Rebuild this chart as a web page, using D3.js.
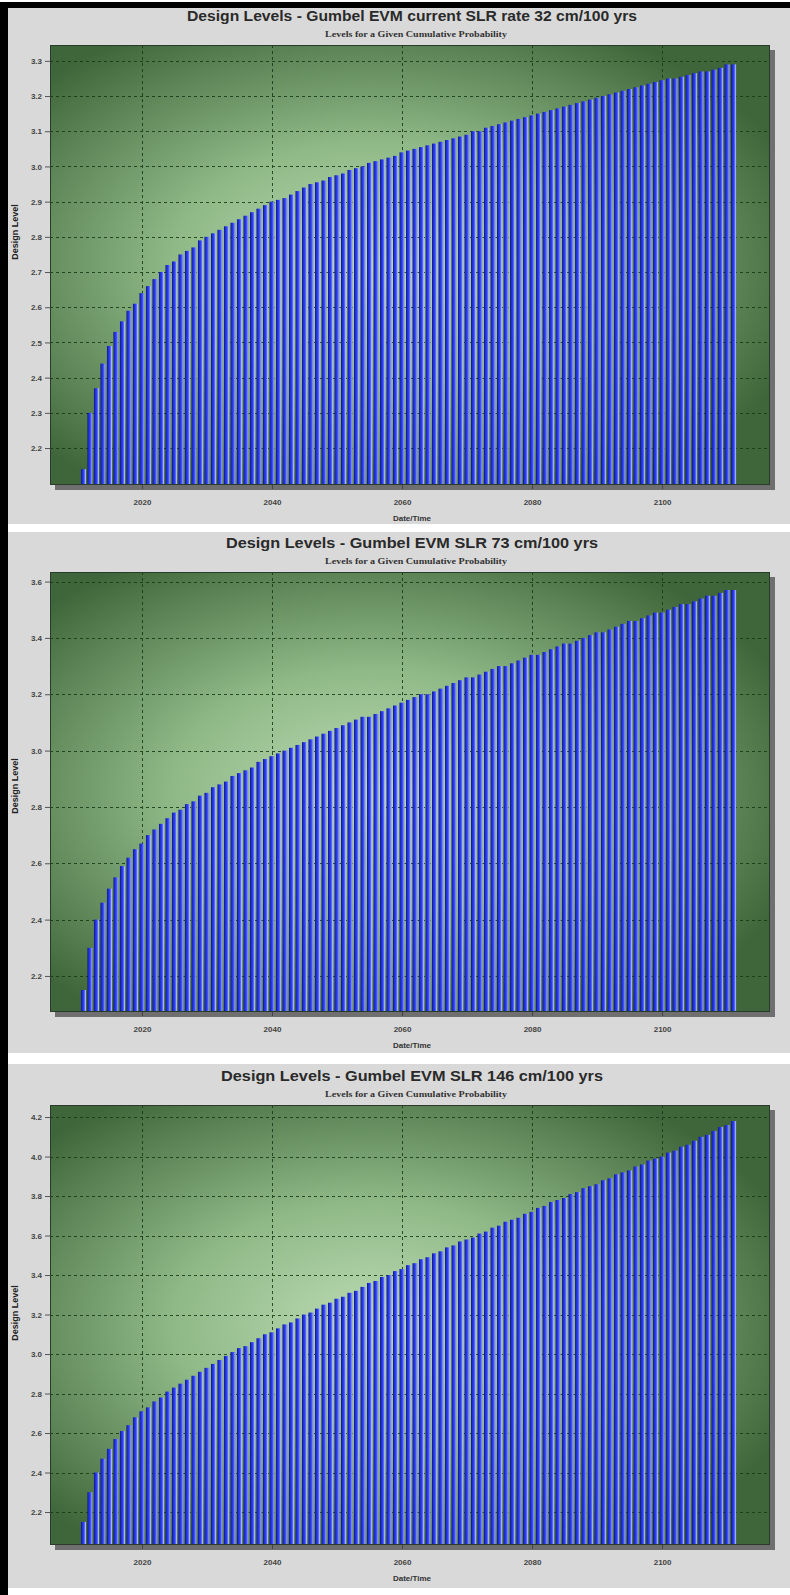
<!DOCTYPE html>
<html><head><meta charset="utf-8">
<script src="https://cdn.jsdelivr.net/npm/d3@7"></script>
<style>
html,body{margin:0;padding:0;background:#fff;}
svg{display:block}
</style></head><body>
<svg id="chart" width="790" height="1595"></svg>
<script>
// Years shown as bars (one bar per year)
const firstYear = 2011, lastYear = 2111;
const xTickYears = [2020, 2040, 2060, 2080, 2100];

// Design levels, current SLR rate 32 cm/100 yrs
const levels32 = [
 2.14,2.30,2.37,2.44,2.49,2.53,2.56,2.59,2.61,2.64,
 2.66,2.68,2.70,2.72,2.73,2.75,2.76,2.77,2.79,2.80,
 2.81,2.82,2.83,2.84,2.85,2.86,2.87,2.88,2.89,2.90,
 2.905,2.91,2.92,2.93,2.94,2.95,2.955,2.96,2.97,2.975,
 2.98,2.99,2.995,3.00,3.01,3.015,3.02,3.025,3.03,3.04,
 3.045,3.05,3.055,3.06,3.065,3.07,3.075,3.08,3.085,3.09,
 3.10,3.10,3.11,3.115,3.12,3.125,3.13,3.135,3.14,3.145,
 3.15,3.155,3.16,3.165,3.17,3.175,3.18,3.185,3.19,3.195,
 3.20,3.205,3.21,3.215,3.22,3.225,3.23,3.235,3.24,3.245,
 3.25,3.25,3.255,3.26,3.265,3.27,3.27,3.275,3.28,3.29,
 3.29
];
// Design levels, SLR 73 cm/100 yrs
const levels73 = [
 2.15,2.30,2.40,2.46,2.51,2.55,2.59,2.62,2.65,2.67,
 2.70,2.72,2.74,2.76,2.78,2.79,2.81,2.82,2.84,2.85,
 2.87,2.88,2.89,2.91,2.92,2.93,2.94,2.96,2.97,2.98,
 2.99,3.00,3.01,3.02,3.03,3.04,3.05,3.06,3.07,3.08,
 3.09,3.10,3.11,3.12,3.12,3.13,3.14,3.15,3.16,3.17,
 3.18,3.19,3.20,3.20,3.21,3.22,3.23,3.24,3.25,3.26,
 3.26,3.27,3.28,3.29,3.30,3.30,3.31,3.32,3.33,3.34,
 3.34,3.35,3.36,3.37,3.38,3.38,3.39,3.40,3.41,3.42,
 3.42,3.43,3.44,3.45,3.46,3.46,3.47,3.48,3.49,3.49,
 3.50,3.51,3.52,3.52,3.53,3.54,3.55,3.55,3.56,3.57,
 3.57
];
// Design levels, SLR 146 cm/100 yrs
const levels146 = [
 2.15,2.30,2.40,2.47,2.52,2.57,2.61,2.64,2.68,2.71,
 2.73,2.76,2.78,2.81,2.83,2.85,2.87,2.89,2.91,2.93,
 2.95,2.97,2.99,3.01,3.03,3.04,3.06,3.08,3.10,3.11,
 3.13,3.15,3.16,3.18,3.20,3.21,3.23,3.25,3.26,3.28,
 3.29,3.31,3.32,3.34,3.36,3.37,3.39,3.40,3.42,3.43,
 3.45,3.46,3.48,3.49,3.51,3.52,3.54,3.55,3.57,3.58,
 3.59,3.61,3.62,3.64,3.65,3.67,3.68,3.69,3.71,3.72,
 3.74,3.75,3.77,3.78,3.79,3.81,3.82,3.84,3.85,3.86,
 3.88,3.89,3.91,3.92,3.93,3.95,3.96,3.98,3.99,4.00,
 4.02,4.03,4.05,4.06,4.08,4.10,4.11,4.13,4.15,4.16,
 4.18
];

const yTicks32  = [2.2,2.3,2.4,2.5,2.6,2.7,2.8,2.9,3.0,3.1,3.2,3.3];
const yTicks73  = [2.2,2.4,2.6,2.8,3.0,3.2,3.4,3.6];
const yTicks146 = [2.2,2.4,2.6,2.8,3.0,3.2,3.4,3.6,3.8,4.0,4.2];

const titles = [
  "Design Levels - Gumbel EVM current SLR rate 32 cm/100 yrs",
  "Design Levels - Gumbel EVM SLR 73 cm/100 yrs",
  "Design Levels - Gumbel EVM SLR 146 cm/100 yrs"
];
const subtitle = "Levels for a Given Cumulative Probability";

const panels = [
  {title: titles[0], values: levels32,  ticks: yTicks32,  domain: [2.095, 3.345], offset: 0,    titleW: 450, labelY: 232},
  {title: titles[1], values: levels73,  ticks: yTicks73,  domain: [2.072, 3.634], offset: 527,  titleW: 372, labelY: 259},
  {title: titles[2], values: levels146, ticks: yTicks146, domain: [2.033, 4.261], offset: 1060, titleW: 382, labelY: 253}
];

const svg = d3.select("#chart");
const defs = svg.append("defs");

// page frame
svg.append("rect").attr("x", 0).attr("y", 0).attr("width", 790).attr("height", 1595).attr("fill", "#ffffff");
const bands = [[8, 524], [532, 1053], [1064, 1588]];
bands.forEach(b => svg.append("rect").attr("x", 8).attr("y", b[0]).attr("width", 782).attr("height", b[1] - b[0]).attr("fill", "#d9d9d9"));
svg.append("rect").attr("x", 0).attr("y", 2).attr("width", 790).attr("height", 6).attr("fill", "#000");
svg.append("rect").attr("x", 0).attr("y", 2).attr("width", 8).attr("height", 1593).attr("fill", "#000");

// plot-area backdrop
const bg = defs.append("radialGradient").attr("id", "plotBg")
  .attr("cx", 0.45).attr("cy", 0.5).attr("r", 0.62).attr("fx", 0.45).attr("fy", 0.5);
bg.append("stop").attr("offset", "0%").attr("stop-color", "#bddbb4");
bg.append("stop").attr("offset", "45%").attr("stop-color", "#8fb987");
bg.append("stop").attr("offset", "100%").attr("stop-color", "#3f663a");

// cylinder-like bar shading
const barGrad = defs.append("linearGradient").attr("id", "barGrad").attr("x1", 0).attr("x2", 1).attr("y1", 0).attr("y2", 0);
[["0%", "#0d166a"], ["20%", "#1b2bc0"], ["50%", "#2b3df6"], ["75%", "#6272ff"], ["92%", "#b3bcf2"], ["100%", "#8a92c8"]]
  .forEach(s => barGrad.append("stop").attr("offset", s[0]).attr("stop-color", s[1]));

const X0 = 50, X1 = 770, TOP = 45, BOT = 485;
const x = d3.scaleLinear().domain([2005.85, 2116.6]).range([X0, X1]);
const step = x(1) - x(0);
const years = d3.range(firstYear, lastYear + 1);

panels.forEach(p => {
  const g = svg.append("g").attr("transform", `translate(0,${p.offset})`);
  const y = d3.scaleLinear().domain(p.domain).range([BOT, TOP]);
  const cx = (X0 + X1) / 2 + 2;

  g.append("text").attr("x", cx).attr("y", 21).attr("text-anchor", "middle")
    .attr("font-family", "Liberation Sans, Arial, sans-serif").attr("font-size", 15).attr("font-weight", "bold")
    .attr("fill", "#2a2a2a").attr("textLength", p.titleW).attr("lengthAdjust", "spacingAndGlyphs")
    .text(p.title);
  g.append("text").attr("x", cx + 4).attr("y", 37).attr("text-anchor", "middle")
    .attr("font-family", "Liberation Serif, Times New Roman, serif").attr("font-size", 8).attr("font-weight", "bold")
    .attr("fill", "#333").attr("textLength", 182).attr("lengthAdjust", "spacingAndGlyphs")
    .text(subtitle);

  // drop shadow
  g.append("rect").attr("x", X0 + 5).attr("y", TOP + 5).attr("width", X1 - X0).attr("height", BOT - TOP).attr("fill", "#6f6f6f");
  g.append("rect").attr("x", X0).attr("y", TOP).attr("width", X1 - X0).attr("height", BOT - TOP).attr("fill", "url(#plotBg)");

  // grid
  const grid = g.append("g").attr("stroke", "#163816").attr("stroke-width", 1).attr("stroke-dasharray", "3,3").attr("opacity", 0.85);
  p.ticks.forEach(t => grid.append("line").attr("x1", X0).attr("x2", X1).attr("y1", Math.round(y(t)) + 0.5).attr("y2", Math.round(y(t)) + 0.5));
  xTickYears.forEach(t => grid.append("line").attr("y1", TOP).attr("y2", BOT).attr("x1", Math.round(x(t)) + 0.5).attr("x2", Math.round(x(t)) + 0.5));

  // bars
  const bw = step * 0.78;
  g.append("g").selectAll("rect").data(p.values).join("rect")
    .attr("x", (d, i) => x(years[i]) - bw / 2)
    .attr("width", bw)
    .attr("y", d => y(d))
    .attr("height", d => BOT - y(d))
    .attr("fill", "url(#barGrad)");

  g.append("rect").attr("x", X0 + 0.5).attr("y", TOP + 0.5).attr("width", X1 - X0 - 1).attr("height", BOT - TOP - 1)
    .attr("fill", "none").attr("stroke", "#2b3b2b").attr("stroke-width", 1);

  // y axis
  const yAxis = d3.axisLeft(y).tickValues(p.ticks).tickFormat(d3.format(".1f")).tickSize(5).tickPadding(3);
  const ya = g.append("g").attr("transform", `translate(${X0},0)`).call(yAxis);
  ya.select(".domain").remove();
  ya.selectAll("line").attr("stroke", "#555");
  ya.selectAll("text").attr("font-family", "Liberation Sans, Arial, sans-serif").attr("font-size", 8).attr("font-weight", "bold").attr("fill", "#444");

  // x axis
  const xAxis = d3.axisBottom(x).tickValues(xTickYears).tickFormat(d3.format("d")).tickSize(4).tickPadding(10);
  const xa = g.append("g").attr("transform", `translate(0,${BOT})`).call(xAxis);
  xa.select(".domain").remove();
  xa.selectAll("line").attr("stroke", "#444");
  xa.selectAll("text").attr("font-family", "Liberation Sans, Arial, sans-serif").attr("font-size", 8).attr("font-weight", "bold").attr("fill", "#444");

  g.append("text").attr("x", cx).attr("y", BOT + 36).attr("text-anchor", "middle")
    .attr("font-family", "Liberation Sans, Arial, sans-serif").attr("font-size", 8).attr("font-weight", "bold").attr("fill", "#333")
    .text("Date/Time");
  g.append("text").attr("transform", `translate(18,${p.labelY}) rotate(-90)`).attr("text-anchor", "middle")
    .attr("font-family", "Liberation Sans, Arial, sans-serif").attr("font-size", 9).attr("font-weight", "bold").attr("fill", "#222")
    .text("Design Level");
});
</script>
</body></html>
